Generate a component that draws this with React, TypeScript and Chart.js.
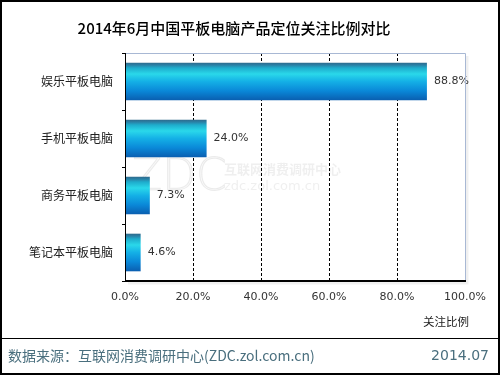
import React, { useEffect, useRef } from "react";
import { Chart, registerables } from "chart.js";

Chart.register(...registerables);

const categories = ["娱乐平板电脑", "手机平板电脑", "商务平板电脑", "笔记本平板电脑"];
const values = [88.8, 24.0, 7.3, 4.6];
const xTicks = [0, 20, 40, 60, 80, 100];
const titleText = "2014年6月中国平板电脑产品定位关注比例对比";
const axisTitle = "关注比例";
const sourceText = "数据来源：互联网消费调研中心(ZDC.zol.com.cn)";
const dateText = "2014.07";

const BAR_FRACTION = 0.66;
const CJK = "'Noto Sans CJK SC', sans-serif";
const NUM = "'DejaVu Sans', sans-serif";

function barGradient(ctx: any) {
  const chart = ctx.chart;
  const area = chart.chartArea;
  const yScale = chart.scales.y;
  if (!area || !yScale || ctx.dataIndex === undefined) return "#1aa0d8";
  const y = yScale.getPixelForValue(ctx.dataIndex);
  const h = ((area.bottom - area.top) / categories.length) * BAR_FRACTION;
  const g = chart.ctx.createLinearGradient(0, y - h / 2, 0, y + h / 2);
  g.addColorStop(0, "#2e6a8c");
  g.addColorStop(0.06, "#2a7fa4");
  g.addColorStop(0.14, "#1eaccc");
  g.addColorStop(0.3, "#2ad8ea");
  g.addColorStop(0.5, "#14b0e6");
  g.addColorStop(0.75, "#0a88d8");
  g.addColorStop(1, "#0a5eb0");
  return g;
}

const decorPlugin = {
  id: "decor",
  beforeDraw(chart: any) {
    const c = chart.ctx;
    c.save();
    c.fillStyle = "#ffffff";
    c.fillRect(0, 0, chart.width, chart.height);
    // watermark
    c.fillStyle = "rgba(150,150,150,0.07)";
    c.strokeStyle = "rgba(150,150,150,0.16)";
    c.lineWidth = 1;
    c.font = "300 44px 'DejaVu Sans', sans-serif";
    c.textBaseline = "alphabetic";
    c.textAlign = "left";
    c.fillText("ZDC", 132, 190);
    c.strokeText("ZDC", 132, 190);
    c.fillStyle = "rgba(150,150,150,0.15)";
    c.font = "bold 13px " + CJK;
    c.fillText("互联网消费调研中心", 224, 174);
    c.font = "13px 'DejaVu Sans', sans-serif";
    c.fillText("zdc.zol.com.cn", 224, 190);
    c.restore();
  },
  beforeDatasetsDraw(chart: any) {
    const c = chart.ctx;
    const a = chart.chartArea;
    const xs = chart.scales.x;
    c.save();
    c.strokeStyle = "#000";
    c.lineWidth = 1;
    c.setLineDash([3, 2]);
    xTicks.forEach((v) => {
      if (v === 0 || v === 100) return;
      const x = Math.round(xs.getPixelForValue(v)) + 0.5;
      c.beginPath();
      c.moveTo(x, a.top);
      c.lineTo(x, a.bottom);
      c.stroke();
    });
    c.restore();
  },
  afterDatasetsDraw(chart: any) {
    const c = chart.ctx;
    const a = chart.chartArea;
    c.save();
    // value labels
    const meta = chart.getDatasetMeta(0);
    c.fillStyle = "#333";
    c.font = "11px " + NUM;
    c.textAlign = "left";
    c.textBaseline = "middle";
    meta.data.forEach((el: any, i: number) => {
      c.fillText(values[i].toFixed(1) + "%", el.x + 7, el.y);
    });
    // plot borders: soft shadow
    c.strokeStyle = "rgba(0,0,0,0.06)";
    c.lineWidth = 3;
    c.beginPath();
    c.moveTo(a.right + 2, a.top + 3);
    c.lineTo(a.right + 2, a.bottom + 2);
    c.lineTo(a.left + 3, a.bottom + 2);
    c.stroke();
    // top and right borders
    c.strokeStyle = "#a8b8d4";
    c.lineWidth = 1;
    c.beginPath();
    c.moveTo(a.left, a.top + 0.5);
    c.lineTo(a.right + 0.5, a.top + 0.5);
    c.lineTo(a.right + 0.5, a.bottom);
    c.stroke();
    // left and bottom axes
    c.strokeStyle = "#000";
    c.beginPath();
    c.moveTo(a.left + 0.5, a.top);
    c.lineTo(a.left + 0.5, a.bottom);
    c.stroke();
    c.lineWidth = 2;
    c.beginPath();
    c.moveTo(a.left, a.bottom);
    c.lineTo(a.right + 1, a.bottom);
    c.stroke();
    c.restore();
  },
  afterDraw(chart: any) {
    const c = chart.ctx;
    c.save();
    // title
    c.fillStyle = "#000";
    c.font = "500 15px " + CJK;
    c.textAlign = "center";
    c.textBaseline = "middle";
    c.fillText(titleText, 234, 28);
    // axis title
    c.fillStyle = "#222";
    c.font = "11.5px " + CJK;
    c.textAlign = "right";
    c.fillText(axisTitle, 469, 322);
    // frame
    c.strokeStyle = "#000";
    c.lineWidth = 2;
    c.strokeRect(1, 1, 498, 373);
    c.lineWidth = 1;
    c.beginPath();
    c.moveTo(0, 338.5);
    c.lineTo(500, 338.5);
    c.stroke();
    // footer
    c.fillStyle = "#4a6f7e";
    c.font = "14px " + CJK;
    c.textAlign = "left";
    c.fillText(sourceText, 8, 356);
    c.textAlign = "right";
    c.font = "14px " + NUM;
    c.fillText(dateText, 489, 356);
    c.restore();
  },
};

export default function App() {
  const ref = useRef<HTMLCanvasElement | null>(null);
  useEffect(() => {
    if (!ref.current) return;
    const chart = new Chart(ref.current, {
      type: "bar",
      data: {
        labels: categories,
        datasets: [
          {
            data: values,
            backgroundColor: barGradient as any,
            borderWidth: 0,
            barPercentage: 0.66,
            categoryPercentage: 1,
          },
        ],
      },
      options: {
        indexAxis: "y",
        animation: false,
        responsive: false,
        devicePixelRatio: 1,
        layout: { padding: { left: 0, top: 53, right: 35, bottom: 0 } },
        plugins: {
          legend: { display: false },
          title: { display: false },
          tooltip: { enabled: false },
        },
        scales: {
          x: {
            min: 0,
            max: 100,
            afterFit: (s: any) => {
              s.height = 94;
            },
            afterBuildTicks: (s: any) => {
              s.ticks = xTicks.map((v) => ({ value: v }));
            },
            grid: { display: false, drawTicks: false },
            border: { display: false },
            ticks: {
              padding: 10,
              color: "#333",
              font: { size: 11, family: "'DejaVu Sans', sans-serif" },
              callback: (v: any) => Number(v).toFixed(1) + "%",
              maxRotation: 0,
            },
          },
          y: {
            afterFit: (s: any) => {
              s.width = 125;
            },
            grid: {
              display: true,
              drawOnChartArea: false,
              drawTicks: true,
              tickLength: 3,
              color: "#000",
            },
            border: { display: false },
            ticks: {
              padding: 9,
              color: "#222",
              font: { size: 12, family: "'Noto Sans CJK SC', sans-serif" },
            },
          },
        },
      },
      plugins: [decorPlugin],
    });
    return () => chart.destroy();
  }, []);
  return (
    <div style={{ position: "absolute", left: 0, top: 0, width: 500, height: 375 }}>
      <canvas ref={ref} width={500} height={375} />
    </div>
  );
}
